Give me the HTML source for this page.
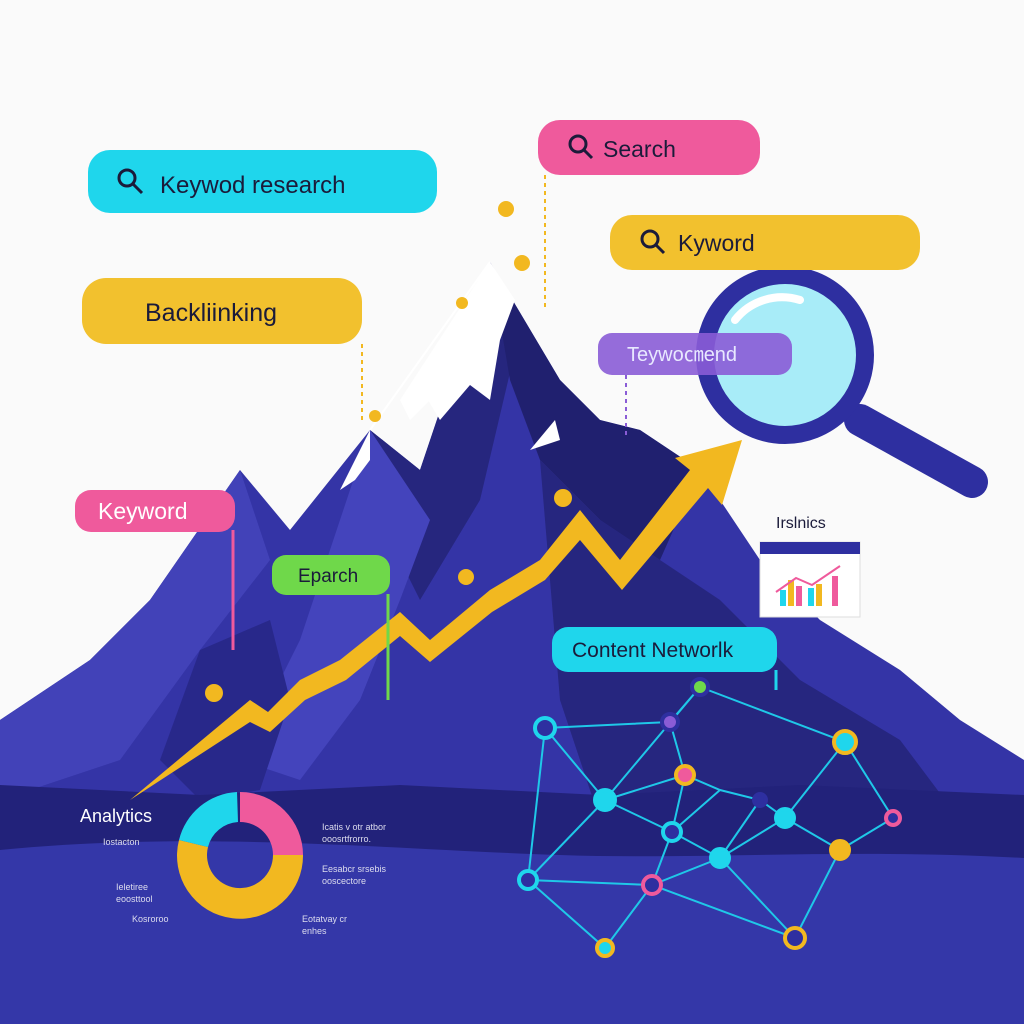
<!DOCTYPE html>
<html><head><meta charset="utf-8"><style>
html,body{margin:0;padding:0;background:#fafafa;}
svg{display:block}
text{font-family:"Liberation Sans",sans-serif;}
</style></head><body>
<svg width="1024" height="1024" viewBox="0 0 1024 1024" xmlns="http://www.w3.org/2000/svg">
<rect width="1024" height="1024" fill="#fafafa"/>
<path d="M0,720 L90,660 L150,600 L240,470 L290,530 L370,430 L420,470 L490,262 L560,380 L600,420 L640,430 L700,470 L760,560 L820,620 L900,670 L960,720 L1024,760 L1024,1024 L0,1024 Z" fill="#3434a6"/>
<path d="M0,720 L90,660 L150,600 L240,470 L270,560 L200,650 L120,760 L0,800 Z" fill="#4242b8"/>
<path d="M370,430 L420,470 L490,262 L520,330 L480,500 L420,600 L380,520 Z" fill="#26267e"/>
<path d="M490,262 L560,380 L600,420 L640,430 L700,470 L660,560 L600,520 L540,460 L510,380 Z" fill="#20206f"/>
<path d="M370,430 L340,520 L300,640 L240,760 L300,780 L360,700 L400,600 L430,520 Z" fill="#4444bc"/>
<path d="M540,460 L600,520 L660,560 L720,600 L800,680 L900,740 L960,820 L600,820 L560,700 Z" fill="#26267f"/>
<path d="M200,650 L270,620 L290,700 L260,790 L200,800 L160,760 Z" fill="#28288a"/>
<path d="M490,262 L425,395 L440,420 L470,385 L490,400 L500,340 L515,300 Z" fill="#fff"/>
<path d="M490,262 L400,400 L410,420 L430,400 L445,380 Z" fill="#fff"/>
<path d="M370,430 L340,490 L355,480 L370,460 Z" fill="#fff"/>
<path d="M555,420 L530,450 L545,445 L560,440 Z" fill="#fff"/>
<line x1="490" y1="262" x2="370" y2="430" stroke="#fff" stroke-width="2"/>
<path d="M0,785 L200,795 L400,785 L600,795 L800,785 L1024,795 L1024,860 L0,860 Z" fill="#22227a"/>
<path d="M0,850 C200,830 400,850 560,855 C700,860 850,848 1024,858 L1024,1024 L0,1024 Z" fill="#3437a8"/>
<path d="M130,800 L250,700 L268,712 L300,680 L340,660 L400,612 L430,640 L490,590 L540,560 L580,510 L620,560 L690,470 L675,458 L742,440 L722,505 L708,488 L622,590 L580,540 L545,580 L492,612 L430,662 L400,636 L346,680 L305,700 L270,732 L250,722 Z" fill="#f2b820"/>
<g fill="#f2b820"><circle cx="506" cy="209" r="8"/><circle cx="522" cy="263" r="8"/><circle cx="462" cy="303" r="6"/><circle cx="375" cy="416" r="6"/><circle cx="563" cy="498" r="9"/><circle cx="466" cy="577" r="8"/><circle cx="214" cy="693" r="9"/></g>
<g stroke-dasharray="4,4" stroke-width="2" fill="none">
<line x1="545" y1="175" x2="545" y2="310" stroke="#f2b820"/>
<line x1="362" y1="344" x2="362" y2="420" stroke="#f2b820"/>
<line x1="626" y1="375" x2="626" y2="435" stroke="#8a5cd6"/>
</g>
<line x1="233" y1="530" x2="233" y2="650" stroke="#ef5a9c" stroke-width="3"/>
<line x1="388" y1="594" x2="388" y2="700" stroke="#6fd84a" stroke-width="3"/>
<line x1="776" y1="670" x2="776" y2="690" stroke="#1fd6ec" stroke-width="3"/>
<line x1="860" y1="420" x2="972" y2="482" stroke="#2e2fa0" stroke-width="32" stroke-linecap="round"/>
<circle cx="785" cy="355" r="80" fill="#a8ecf8" stroke="#2e2fa0" stroke-width="18"/>
<path d="M735,320 A60,60 0 0 1 800,300" stroke="#fff" stroke-width="8" fill="none" stroke-linecap="round"/>
<rect x="88" y="150" width="349" height="63" rx="22" fill="#1fd6ec"/>
<circle cx="127" cy="178" r="8" fill="none" stroke="#1b1b3a" stroke-width="3"/><line x1="133" y1="184" x2="142" y2="193" stroke="#1b1b3a" stroke-width="3"/>
<text x="160" y="193" font-size="24" fill="#1b1b3a">Keywod research</text>
<rect x="538" y="120" width="222" height="55" rx="22" fill="#ef5a9c"/>
<circle cx="578" cy="144" r="8" fill="none" stroke="#1b1b3a" stroke-width="3"/><line x1="584" y1="150" x2="592" y2="158" stroke="#1b1b3a" stroke-width="3"/>
<text x="603" y="157" font-size="23" fill="#1b1b3a">Search</text>
<rect x="610" y="215" width="310" height="55" rx="22" fill="#f2c12e"/>
<circle cx="650" cy="239" r="8" fill="none" stroke="#1b1b3a" stroke-width="3"/><line x1="656" y1="245" x2="664" y2="253" stroke="#1b1b3a" stroke-width="3"/>
<text x="678" y="251" font-size="23" fill="#1b1b3a">Kyword</text>
<rect x="82" y="278" width="280" height="66" rx="24" fill="#f2c12e"/>
<text x="145" y="321" font-size="25" fill="#1b1b3a">Backliinking</text>
<rect x="598" y="333" width="194" height="42" rx="14" fill="#8a5cd6" opacity="0.9"/>
<text x="627" y="361" font-size="20" fill="#e8e8ff">Teywo㎝end</text>
<rect x="75" y="490" width="160" height="42" rx="16" fill="#ef5a9c"/>
<text x="98" y="519" font-size="23" fill="#fff">Keyword</text>
<rect x="272" y="555" width="118" height="40" rx="14" fill="#6fd84a"/>
<text x="298" y="582" font-size="19" fill="#1b1b3a">Eparch</text>
<rect x="552" y="627" width="225" height="45" rx="16" fill="#1fd6ec"/>
<text x="572" y="657" font-size="21" fill="#1b1b3a">Content Networlk</text>
<text x="776" y="528" font-size="16" fill="#1b1b3a">Irslnics</text>
<rect x="760" y="542" width="100" height="75" fill="#fff" stroke="#ddd"/>
<rect x="760" y="542" width="100" height="12" fill="#2e2fa0"/>
<g fill="#1fd6ec"><rect x="780" y="590" width="6" height="16"/><rect x="808" y="588" width="6" height="18"/></g>
<g fill="#f2b820"><rect x="788" y="580" width="6" height="26"/><rect x="816" y="584" width="6" height="22"/></g>
<g fill="#ef5a9c"><rect x="796" y="586" width="6" height="20"/><rect x="832" y="576" width="6" height="30"/></g>
<polyline points="776,592 796,578 812,585 840,566" fill="none" stroke="#ef5a9c" stroke-width="2"/>
<g transform="translate(240,855)">
<path d="M0,-63 A63,63 0 0 1 63,0 L33,0 A33,33 0 0 0 0,-33 Z" fill="#ef5a9c"/>
<path d="M63,0 A63,63 0 1 1 -61,-15 L-32,-8 A33,33 0 1 0 33,0 Z" fill="#f2b820"/>
<path d="M-61,-15 A63,63 0 0 1 -3,-63 L-2,-33 A33,33 0 0 0 -32,-8 Z" fill="#1fd6ec"/>
</g>
<text x="80" y="822" font-size="18" fill="#fff">Analytics</text>
<g font-size="9" fill="#dde">
<text x="103" y="845">Iostacton</text><text x="322" y="830">Icatis v otr atbor</text><text x="322" y="842">ooosrtfrorro.</text>
<text x="322" y="872">Eesabcr srsebis</text><text x="322" y="884">ooscectore</text>
<text x="116" y="890">Ieletiree</text><text x="116" y="902">eoosttool</text>
<text x="132" y="922">Kosroroo</text><text x="302" y="922">Eotatvay cr</text><text x="302" y="934">enhes</text>
</g>
<g stroke="#1fc8e8" stroke-width="2" fill="none">
<path d="M700,687 L670,722 L685,775 L720,790 L760,800 L785,818 L840,850 L893,818 L845,742 L700,687 M700,687 L605,800 L545,728 L528,880 L605,948 L652,885 L672,832 L605,800 M685,775 L672,832 L720,858 L795,938 L840,850 L785,818 L720,858 L652,885 L528,880 M545,728 L670,722 M605,800 L685,775 M845,742 L785,818 M720,790 L672,832 M760,800 L720,858 M652,885 L795,938 M605,948 L652,885 M893,818 L840,850 M700,687 L845,742 M528,880 L605,800"/>
</g>
<g stroke-width="4">
<circle cx="700" cy="687" r="8" fill="#6fd84a" stroke="#2e2fa0"/>
<circle cx="545" cy="728" r="10" fill="#2e2fa0" stroke="#1fd6ec"/>
<circle cx="670" cy="722" r="8" fill="#8a5cd6" stroke="#2e2fa0"/>
<circle cx="845" cy="742" r="11" fill="#1fd6ec" stroke="#f2b820"/>
<circle cx="685" cy="775" r="9" fill="#ef5a9c" stroke="#f2b820"/>
<circle cx="605" cy="800" r="10" fill="#1fd6ec" stroke="#1fd6ec"/>
<circle cx="760" cy="800" r="6" fill="#2e2fa0" stroke="#2e2fa0"/>
<circle cx="785" cy="818" r="9" fill="#1fd6ec" stroke="#1fd6ec"/>
<circle cx="893" cy="818" r="7" fill="#2e2fa0" stroke="#ef5a9c"/>
<circle cx="672" cy="832" r="9" fill="#2e2fa0" stroke="#1fd6ec"/>
<circle cx="840" cy="850" r="9" fill="#f2b820" stroke="#f2b820"/>
<circle cx="720" cy="858" r="9" fill="#1fd6ec" stroke="#1fd6ec"/>
<circle cx="528" cy="880" r="9" fill="#2e2fa0" stroke="#1fd6ec"/>
<circle cx="652" cy="885" r="9" fill="#2e2fa0" stroke="#ef5a9c"/>
<circle cx="795" cy="938" r="10" fill="#2e2fa0" stroke="#f2b820"/>
<circle cx="605" cy="948" r="8" fill="#1fd6ec" stroke="#f2b820"/>
</g>
</svg>
</body></html>
